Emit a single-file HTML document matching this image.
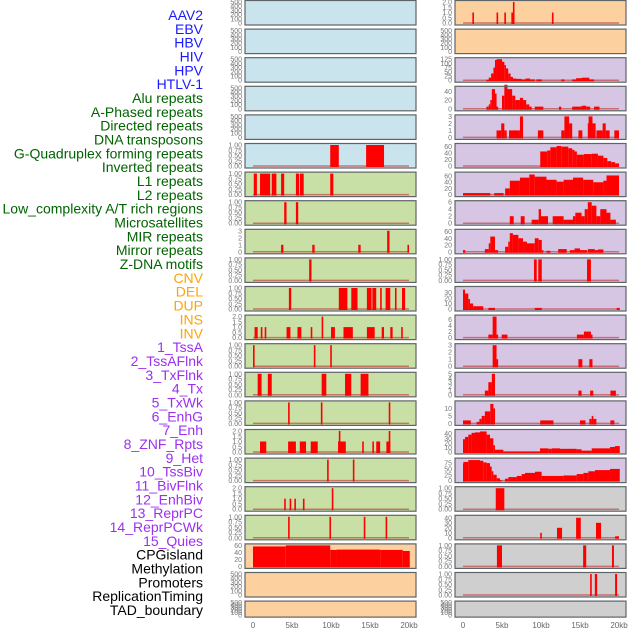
<!DOCTYPE html>
<html><head><meta charset="utf-8"><style>
html,body{margin:0;padding:0;background:#fff;width:630px;height:630px;overflow:hidden}
svg{display:block}
</style></head><body>
<svg id="chart" width="630" height="630" xmlns="http://www.w3.org/2000/svg"></svg>
<script>
// ---- data: segments [startKb, endKb, value] ----
const trackLabels=["AAV2","EBV","HBV","HIV","HPV","HTLV-1","Alu repeats","A-Phased repeats","Directed repeats","DNA transposons","G-Quadruplex forming repeats","Inverted repeats","L1 repeats","L2 repeats","Low_complexity A/T rich regions","Microsatellites","MIR repeats","Mirror repeats","Z-DNA motifs","CNV","DEL","DUP","INS","INV","1_TssA","2_TssAFlnk","3_TxFlnk","4_Tx","5_TxWk","6_EnhG","7_Enh","8_ZNF_Rpts","9_Het","10_TssBiv","11_BivFlnk","12_EnhBiv","13_ReprPC","14_ReprPCWk","15_Quies","CPGisland","Methylation","Promoters","ReplicationTiming","TAD_boundary"];
const labelColors=["#1a1aff","#1a1aff","#1a1aff","#1a1aff","#1a1aff","#1a1aff","#006400","#006400","#006400","#006400","#006400","#006400","#006400","#006400","#006400","#006400","#006400","#006400","#006400","#ffa500","#ffa500","#ffa500","#ffa500","#ffa500","#9b30f0","#9b30f0","#9b30f0","#9b30f0","#9b30f0","#9b30f0","#9b30f0","#9b30f0","#9b30f0","#9b30f0","#9b30f0","#9b30f0","#9b30f0","#9b30f0","#9b30f0","#000","#000","#000","#000","#000"];
const xTicks=[0,5,10,15,20];
const xTickLabels=["0","5kb","10kb","15kb","20kb"];

const L0=[],L1=[],L2=[],L3=[],L4=[];
const L5=[[9.9,11.0,1],[14.5,16.8,1]];
const L6=[[0.1,0.5,1],[0.9,2.2,1],[2.4,3.0,1],[3.6,4.0,1],[5.5,5.9,1],[6.0,6.5,1],[9.9,10.3,1]];
const L7=[[4.0,4.3,1],[5.5,5.8,1]];
const L8=[[3.6,3.9,1],[7.6,7.9,1],[13.5,13.8,1],[17.2,17.5,3],[19.8,20.0,1]];
const L9=[[7.2,7.5,1]];
const L10=[[4.6,4.9,1],[11.0,12.1,1],[12.6,13.4,1],[14.6,15.2,1],[15.3,15.8,1],[16.3,16.5,1],[17.0,17.6,1],[18.2,18.4,1],[19.1,19.5,1]];
const L11=[[0.2,0.6,1],[1.0,1.2,1],[1.5,1.7,1],[4.3,4.8,1],[5.7,6.2,1],[7.4,7.6,1],[8.8,9.0,2],[10.0,10.5,1],[11.6,12.8,1],[14.6,15.6,1],[16.5,16.8,1],[17.6,17.9,1],[19.0,19.2,1]];
const L12=[[0.0,0.2,1],[7.8,8.0,1],[9.9,10.1,1]];
const L13=[[0.6,1.1,1],[1.9,2.4,1],[8.8,9.4,1],[11.8,12.6,1],[13.8,14.8,1]];
const L14=[[4.5,4.7,1],[8.7,8.9,1],[17.4,17.6,1]];
const L15=[[0.9,1.7,1],[4.5,5.5,1],[6.0,6.8,1],[7.4,8.3,1],[10.9,11.9,1],[11.0,11.2,2],[14.0,14.2,1],[15.3,15.5,1],[15.8,16.3,1],[17.1,17.6,1],[17.4,17.6,2]];
const L16=[[9.5,9.7,1],[12.8,13.0,1]];
const L17=[[4.0,4.2,1],[4.7,4.9,1],[5.3,5.5,1],[6.4,6.6,1],[10.1,10.3,2]];
const L18=[[4.5,4.7,1],[9.8,10.0,1],[14.2,14.4,1],[17.0,17.2,1]];
const L19=[[0,4.2,57],[4.2,9.9,60],[9.9,10.7,47],[10.7,16.3,48],[16.3,19.2,47],[19.2,20.1,44]];
const L20=[],L21=[];

const R0=[[1.2,1.4,1],[4.3,4.5,1],[5.3,5.5,1],[6.2,6.4,1],[6.4,6.5,2],[11.4,11.6,1]];
const R1=[];
const R2=[[3.0,3.3,3],[3.3,3.6,15],[3.6,3.9,40],[3.9,4.1,75],[4.1,4.3,120],[4.3,5.0,125],[5.0,5.3,110],[5.3,5.5,90],[5.5,5.8,70],[5.8,6.1,40],[6.1,6.4,20],[6.4,6.8,10],[6.8,7.5,8],[7.5,8.0,5],[8.0,8.6,10],[8.6,9.2,5],[9.4,10.1,5],[12.6,13.0,5],[14.0,14.5,5],[14.5,15.2,12],[15.2,16.2,15],[16.2,16.8,5]];
const R3=[[3.0,3.3,5],[3.3,3.5,10],[3.5,3.7,20],[3.7,4.1,45],[4.1,4.3,35],[4.3,4.5,5],[5.0,5.3,30],[5.3,5.7,55],[5.7,6.3,45],[6.3,6.7,30],[6.7,7.3,20],[7.3,7.7,25],[7.7,8.1,20],[8.1,8.5,10],[8.5,8.8,5],[9.2,10.3,5],[12.3,12.6,5],[14.0,15.2,5],[15.2,15.8,7],[15.8,16.3,5],[16.8,17.5,5]];
const R4=[[4.3,4.9,1],[4.9,5.3,2],[5.3,5.6,1],[5.9,7.3,1],[7.3,7.7,3],[9.6,10.3,1],[12.6,13.0,1],[13.0,13.6,3],[13.6,14.0,2],[14.8,15.3,1],[16.0,16.1,2],[16.1,16.6,3],[16.6,17.0,2],[17.1,17.9,1],[17.9,18.3,2],[18.3,18.8,1],[19.4,20.0,1]];
const R5=[[9.9,10.8,45],[10.8,11.2,48],[11.2,12.0,58],[12.0,12.6,62],[12.6,13.5,60],[13.5,14.0,55],[14.0,14.3,50],[14.3,14.6,45],[14.6,15.5,35],[15.5,16.5,37],[16.5,17.3,38],[17.3,18.0,32],[18.0,18.5,25],[18.5,19.0,15],[19.0,19.5,12],[19.5,20.0,8]];
const R6=[[0,3.5,5],[4.0,5.2,5],[5.4,6.0,20],[6.0,7.3,45],[7.3,8.5,55],[8.5,9.2,65],[9.2,10.7,58],[10.7,12.0,48],[12.0,12.9,42],[12.9,14.1,48],[14.1,15.4,55],[15.4,16.7,48],[16.7,18.0,40],[18.0,18.4,45],[18.4,20.0,62]];
const R7=[[6.0,6.5,2],[7.4,7.9,2],[8.8,9.7,1],[9.7,10.0,4],[10.0,10.9,2],[11.5,12.9,2],[12.9,14.1,1],[14.1,14.4,2],[14.4,15.2,3],[15.2,15.6,2],[15.6,16.0,4],[16.0,16.5,6],[16.5,17.1,5],[17.1,17.6,2],[17.6,18.4,4],[18.4,18.9,3],[18.9,19.6,1]];
const R8=[[0,0.3,5],[2.8,3.3,8],[3.3,3.5,25],[3.5,4.1,45],[4.1,4.5,5],[5.4,5.8,15],[5.8,6.0,30],[6.0,6.4,55],[6.4,7.1,50],[7.1,7.7,40],[7.7,8.2,30],[8.2,9.2,25],[9.2,9.7,40],[9.7,10.1,35],[10.1,10.3,5],[10.7,11.2,3],[12.2,13.3,8],[13.7,14.3,5],[14.3,15.0,10],[15.0,15.9,5],[16.0,16.9,8],[16.9,17.3,5],[17.3,18.0,7]];
const R9=[[9.1,9.45,1],[9.65,10.1,1],[15.9,16.4,1]];
const R10=[[0,0.26,35],[0.26,0.68,28],[0.68,0.9,18],[0.9,1.3,10],[1.3,2.6,5],[3.25,4.1,2],[9.2,10.1,2],[19.7,20.1,2]];
const R11=[[3.25,3.8,1],[3.8,4.3,7],[4.3,4.5,1],[4.96,5.7,1],[14.6,15.5,1],[15.5,16.4,2],[16.4,16.6,1]];
const R12=[[3.8,4.3,3],[4.3,4.5,1],[14.8,15.3,1],[16.2,16.6,1]];
const R13=[[2.8,3.25,1],[3.25,3.7,3],[3.7,4.1,5],[14.8,15.2,1],[16.3,16.7,1],[18.9,19.6,1]];
const R14=[[0,1.0,2],[1.75,2.1,1],[2.1,2.4,3],[2.4,2.8,5],[2.8,3.5,8],[3.5,3.9,13],[3.9,4.1,10],[9.9,11.6,2],[15.0,15.7,2],[16.2,16.5,3],[16.5,16.7,5],[16.7,17.1,3],[18.9,19.4,2]];
const R15=[[0,0.26,28],[0.26,0.68,33],[0.68,1.1,38],[1.1,1.54,42],[1.54,2.18,43],[2.18,3.03,45],[3.03,3.46,38],[3.46,3.89,30],[3.89,4.1,15],[4.1,5.17,5],[5.17,9.87,1],[9.87,10.94,8],[10.94,11.37,7],[11.37,12.44,8],[12.44,14.57,7],[14.57,15.2,6],[15.2,16.5,3],[16.5,18.85,8],[18.85,19.49,11],[19.49,20.1,13]];
const R16=[[0,0.04,72],[0.04,0.68,80],[0.68,2.18,88],[2.18,2.6,85],[2.6,3.03,78],[3.03,3.46,75],[3.46,3.68,60],[3.68,3.89,40],[3.89,4.32,25],[4.32,4.74,10],[4.74,4.96,2],[5.38,5.81,8],[5.81,6.88,15],[6.88,7.52,20],[7.52,7.95,28],[7.95,9.23,33],[9.23,10.08,38],[10.08,12.86,20],[12.86,14.57,22],[14.57,15.43,28],[15.43,16.07,33],[16.07,16.92,40],[16.92,18.85,45],[18.85,20.1,50]];
const R17=[[4.2,5.3,1]];
const R18=[[9.9,10.1,10],[12.05,12.7,20],[14.5,15.1,40],[17.05,17.7,30],[19.5,20.0,3]];
const R19=[[4.35,5.0,1],[15.4,15.8,1],[19.1,19.35,1]];
const R20=[[16.3,16.5,1],[16.9,17.2,1],[19.5,19.75,1]];
const R21=[];

const leftData=[L0,L1,L2,L3,L4,L5,L6,L7,L8,L9,L10,L11,L12,L13,L14,L15,L16,L17,L18,L19,L20,L21];
const rightData=[R0,R1,R2,R3,R4,R5,R6,R7,R8,R9,R10,R11,R12,R13,R14,R15,R16,R17,R18,R19,R20,R21];

const T500=["0","100","200","300","400","500"], T1=["0.00","0.25","0.50","0.75","1.00"], T2=["0.0","0.5","1.0","1.5","2.0"];
const leftTicks=[T500,T500,T500,T500,T500,T1,T1,T1,["0","1","2","3"],T1,T1,T2,T1,T1,T1,T2,T1,T2,T1,["0","20","40","60"],T500,T500];
const rightTicks=[T2,T500,["0","25","50","75","100","125"],["0","20","40"],["0","1","2","3"],["0","20","40","60"],["0","20","40","60"],["0","2","4","6"],["0","20","40","60"],T1,["0","10","20","30"],["0","2","4","6"],["0","1","2","3"],["0","1","2","3","4","5"],["0","5","10"],["0","10","20","30","40"],["0","25","50","75"],T1,["0","10","20","30","40"],T1,T1,T500];
const leftYmax=[500,500,500,500,500,1,1,1,3,1,1,2,1,1,1,2,1,2,1,60,500,500];
const rightYmax=[2,500,125,48,3,65,68,6,62,1,38,7,3,5,14,46,90,1,42,1,1,500];

const BLUE="#c9e4ec",GREEN="#c8e0a6",ORANGE="#fdd09f",PURPLE="#d6c6e3",GRAY="#cfcfcf";
const leftBg=[BLUE,BLUE,BLUE,BLUE,BLUE,BLUE,GREEN,GREEN,GREEN,GREEN,GREEN,GREEN,GREEN,GREEN,GREEN,GREEN,GREEN,GREEN,GREEN,ORANGE,ORANGE,ORANGE];
const rightBg=[ORANGE,ORANGE,PURPLE,PURPLE,PURPLE,PURPLE,PURPLE,PURPLE,PURPLE,PURPLE,PURPLE,PURPLE,PURPLE,PURPLE,PURPLE,PURPLE,PURPLE,GRAY,GRAY,GRAY,GRAY,GRAY];

// ---- drawing ----
const NS="http://www.w3.org/2000/svg";
const svg=document.getElementById('chart');
function mk(tag,attrs,parent){const e=document.createElementNS(NS,tag);for(const k in attrs)e.setAttribute(k,attrs[k]);(parent||svg).appendChild(e);return e;}

// labels
const labTop=15, labStep=(610-15)/43;
trackLabels.forEach((t,i)=>{
  const e=mk('text',{x:203,y:labTop+i*labStep+5,'text-anchor':'end','font-family':'Liberation Sans, sans-serif','font-size':14,fill:labelColors[i]});
  e.textContent=t;
  
  
});

const cols=[{px:245,pw:171,x0:253,data:leftData,ticks:leftTicks,ymax:leftYmax,bg:leftBg,name:'left'},
            {px:455,pw:171,x0:463,data:rightData,ticks:rightTicks,ymax:rightYmax,bg:rightBg,name:'right'}];
const kbPx=7.8;
cols.forEach(c=>{
  const xs=kb=>c.x0+kb*kbPx;
  for(let i=0;i<22;i++){
    const top=0.5+i*28.6, h=(i===21)?16:24.5;
    const g=mk('g',{});
    
    
    mk('rect',{x:c.px,y:top,width:c.pw,height:h,fill:c.bg[i]},g);
    const yb=top+h-2, yt=top+1.5;
    const ys=v=>yb-(v/c.ymax[i])*(yb-yt);
    // baseline
    if(i!==21 && !(c.name==='left'&&(i<5||i>19)) && !(c.name==='right'&&i===1)){
      const bl=mk('line',{x1:xs(0),x2:xs(20),y1:yb,y2:yb,stroke:'#c03030','stroke-opacity':0.6,'stroke-width':1.5},g);
      
      
    }
    c.data[i].forEach(s=>{
      const x1=xs(s[0]), x2=xs(s[1]), y=ys(s[2]);
      const r=mk('rect',{x:x1,y:y,width:Math.max(1.6,x2-x1),height:Math.max(0,yb+1-y),fill:'#ff0000'},g);
      
      
    });
    mk('rect',{x:c.px,y:top,width:c.pw,height:h,fill:'none',stroke:'#5f6468','stroke-width':1.2},g);
    // y ticks
    const tk=c.ticks[i], n=tk.length;
    const tmax=parseFloat(tk[n-1]);
    tk.forEach(t=>{
      const v=parseFloat(t);
      const y=yb-(v/c.ymax[i])*(yb-yt);
      const te=mk('text',{x:c.px-3,y:y+2.5,'text-anchor':'end','font-family':'Liberation Sans, sans-serif','font-size':7,fill:'#777'},g);
      te.textContent=t;
      
      
    });
  }
  xTicks.forEach((k,j)=>{
    const te=mk('text',{x:xs(k),y:628,'text-anchor':'middle','font-family':'Liberation Sans, sans-serif','font-size':8,fill:'#666'});
    te.textContent=xTickLabels[j];
    
    
  });
});
</script>
</body></html>
